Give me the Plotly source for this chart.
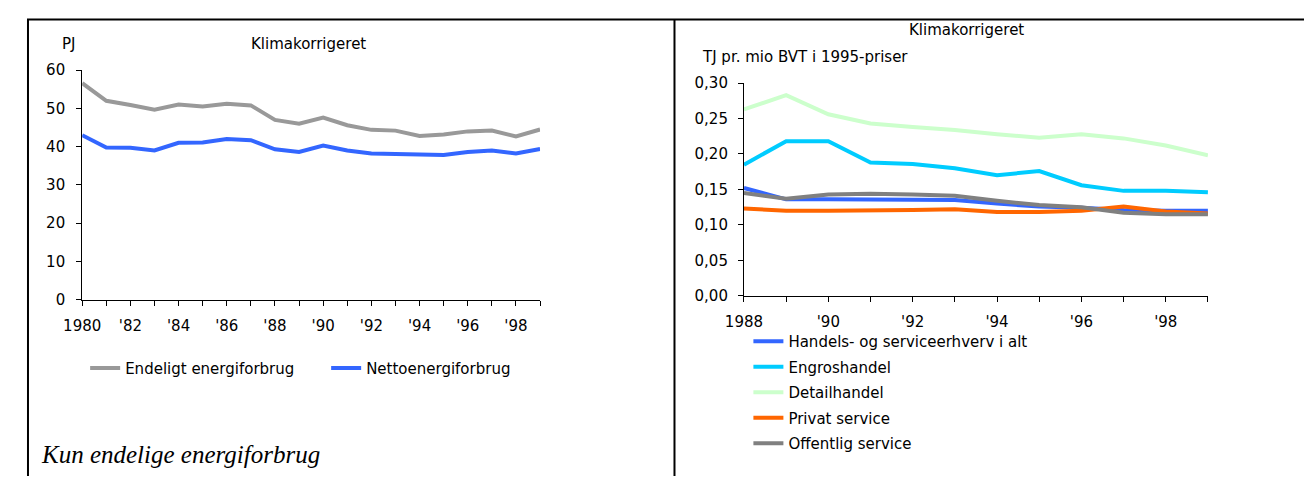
import plotly.graph_objects as go

W, H = 1312, 477

# left chart: PJ, 1980-1999
years_left = list(range(1980, 2000))
endeligt = [56.6, 52.0, 50.9, 49.7, 51.0, 50.5, 51.2, 50.8, 47.0, 46.0,
            47.6, 45.6, 44.4, 44.2, 42.8, 43.2, 44.0, 44.2, 42.7, 44.5]
netto = [43.0, 39.8, 39.7, 39.0, 41.0, 41.1, 42.0, 41.7, 39.3, 38.6,
         40.3, 39.0, 38.2, 38.1, 37.8, 37.8, 38.6, 39.0, 38.2, 39.4]
left_ticks = list(range(1980, 1999, 2))
left_ticktext = ['1980', "'82", "'84", "'86", "'88", "'90", "'92", "'94", "'96", "'98"]

# right chart: TJ pr. mio BVT, 1988-1999
years_right = list(range(1988, 2000))
handels = [0.152, 0.136, 0.136, 0.136, 0.136, 0.135, 0.130, 0.126, 0.124, 0.121, 0.120, 0.120]
engros = [0.185, 0.218, 0.218, 0.188, 0.186, 0.180, 0.170, 0.176, 0.156, 0.148, 0.148, 0.146]
detail = [0.263, 0.283, 0.256, 0.243, 0.238, 0.234, 0.228, 0.223, 0.228, 0.222, 0.212, 0.198]
privat = [0.123, 0.120, 0.120, 0.120, 0.121, 0.122, 0.118, 0.118, 0.120, 0.126, 0.119, 0.116]
offentlig = [0.145, 0.137, 0.143, 0.144, 0.143, 0.141, 0.134, 0.128, 0.125, 0.117, 0.115, 0.115]
right_ticks = list(range(1988, 1999, 2))
right_ticktext = ['1988', "'90", "'92", "'94", "'96", "'98"]

FONT = 'DejaVu Sans, Arial, sans-serif'
FS = 15


# pixel helpers (page draws the figure 8px in from the top-left)
def px_x(x):
    return x / W


def px_y(y):
    return 1 - y / H


fig = go.Figure()

fig.add_trace(go.Scatter(x=years_left, y=endeligt, mode='lines', name='Endeligt energiforbrug',
                         line=dict(color='#999999', width=4), xaxis='x', yaxis='y', legend='legend'))
fig.add_trace(go.Scatter(x=years_left, y=netto, mode='lines', name='Nettoenergiforbrug',
                         line=dict(color='#3366FF', width=4), xaxis='x', yaxis='y', legend='legend'))

right_series = [
    ('Handels- og serviceerhverv i alt', handels, '#3366FF'),
    ('Engroshandel', engros, '#00CCFF'),
    ('Detailhandel', detail, '#CCFFCC'),
    ('Privat service', privat, '#FF6600'),
    ('Offentlig service', offentlig, '#808080'),
]
for name, vals, col in right_series:
    fig.add_trace(go.Scatter(x=years_right, y=vals, mode='lines', name=name,
                             line=dict(color=col, width=4), xaxis='x2', yaxis='y2',
                             legend='legend2', legendgroup=name))

axis_common = dict(showline=True, linecolor='black', linewidth=1, showgrid=False,
                   zeroline=False, ticks='outside', ticklen=5, tickcolor='black',
                   tickfont=dict(family=FONT, size=FS, color='black'))

fig.update_layout(
    width=W, height=H,
    margin=dict(l=0, r=0, t=0, b=0),
    paper_bgcolor='white', plot_bgcolor='white',
    separators=',.',
    font=dict(family=FONT, size=FS, color='black'),
    xaxis=dict(domain=[px_x(56), px_x(520.6)], range=[1980, 1999], tickvals=left_ticks,
               ticktext=left_ticktext, anchor='y', ticklabelstandoff=7,
               minor=dict(dtick=1, ticks='outside', ticklen=5, tickcolor='black'),
               **axis_common),
    yaxis=dict(domain=[px_y(293.7), px_y(55.3)], range=[0, 60], dtick=10, anchor='x',
               ticklabelstandoff=8, **axis_common),
    xaxis2=dict(domain=[px_x(727.5), px_x(1198.3)], range=[1988, 1999], tickvals=right_ticks,
                ticktext=right_ticktext, anchor='y2', ticklabelstandoff=7,
                minor=dict(dtick=1, ticks='outside', ticklen=5, tickcolor='black'),
                **axis_common),
    yaxis2=dict(domain=[px_y(289.7), px_y(68.7)], range=[0, 0.30], dtick=0.05,
                tickformat='.2f', anchor='x2', ticklabelstandoff=7, **axis_common),
    legend=dict(orientation='h', x=px_x(59), y=px_y(365), xanchor='left', yanchor='middle',
                entrywidth=196, font=dict(family=FONT, size=FS, color='black'),
                bgcolor='rgba(0,0,0,0)'),
    legend2=dict(orientation='v', x=px_x(732), y=px_y(320), xanchor='left', yanchor='top',
                 font=dict(family=FONT, size=FS, color='black'), bgcolor='rgba(0,0,0,0)',
                 tracegroupgap=3),
    showlegend=True,
)

annots = [
    dict(text='PJ', x=px_x(42), y=px_y(28)),
    dict(text='Klimakorrigeret', x=px_x(285.5), y=px_y(28)),
    dict(text='Klimakorrigeret', x=px_x(953), y=px_y(13)),
]
for a in annots:
    fig.add_annotation(xref='paper', yref='paper', xanchor='center', yanchor='middle',
                       showarrow=False, font=dict(family=FONT, size=FS, color='black'), **a)
fig.add_annotation(text='TJ pr. mio BVT i 1995-priser', xref='paper', yref='paper',
                   x=px_x(683), y=px_y(42), xanchor='left', yanchor='middle', showarrow=False,
                   font=dict(family=FONT, size=FS, color='black'))
fig.add_annotation(text='<i>Kun endelige energiforbrug</i>', xref='paper', yref='paper',
                   x=px_x(12), y=px_y(455), xanchor='left', yanchor='middle', showarrow=False,
                   font=dict(family='Liberation Serif, Times New Roman, serif', size=25, color='black'))

# frame lines
border = dict(type='line', xref='paper', yref='paper', line=dict(color='black', width=2))
fig.add_shape(x0=0, x1=1, y0=px_y(2.5), y1=px_y(2.5), **border)
fig.add_shape(x0=px_x(1), x1=px_x(1), y0=0, y1=px_y(2.5), **border)
fig.add_shape(x0=px_x(657), x1=px_x(657), y0=0, y1=px_y(2.5), **border)

fig.write_html('out.html')
